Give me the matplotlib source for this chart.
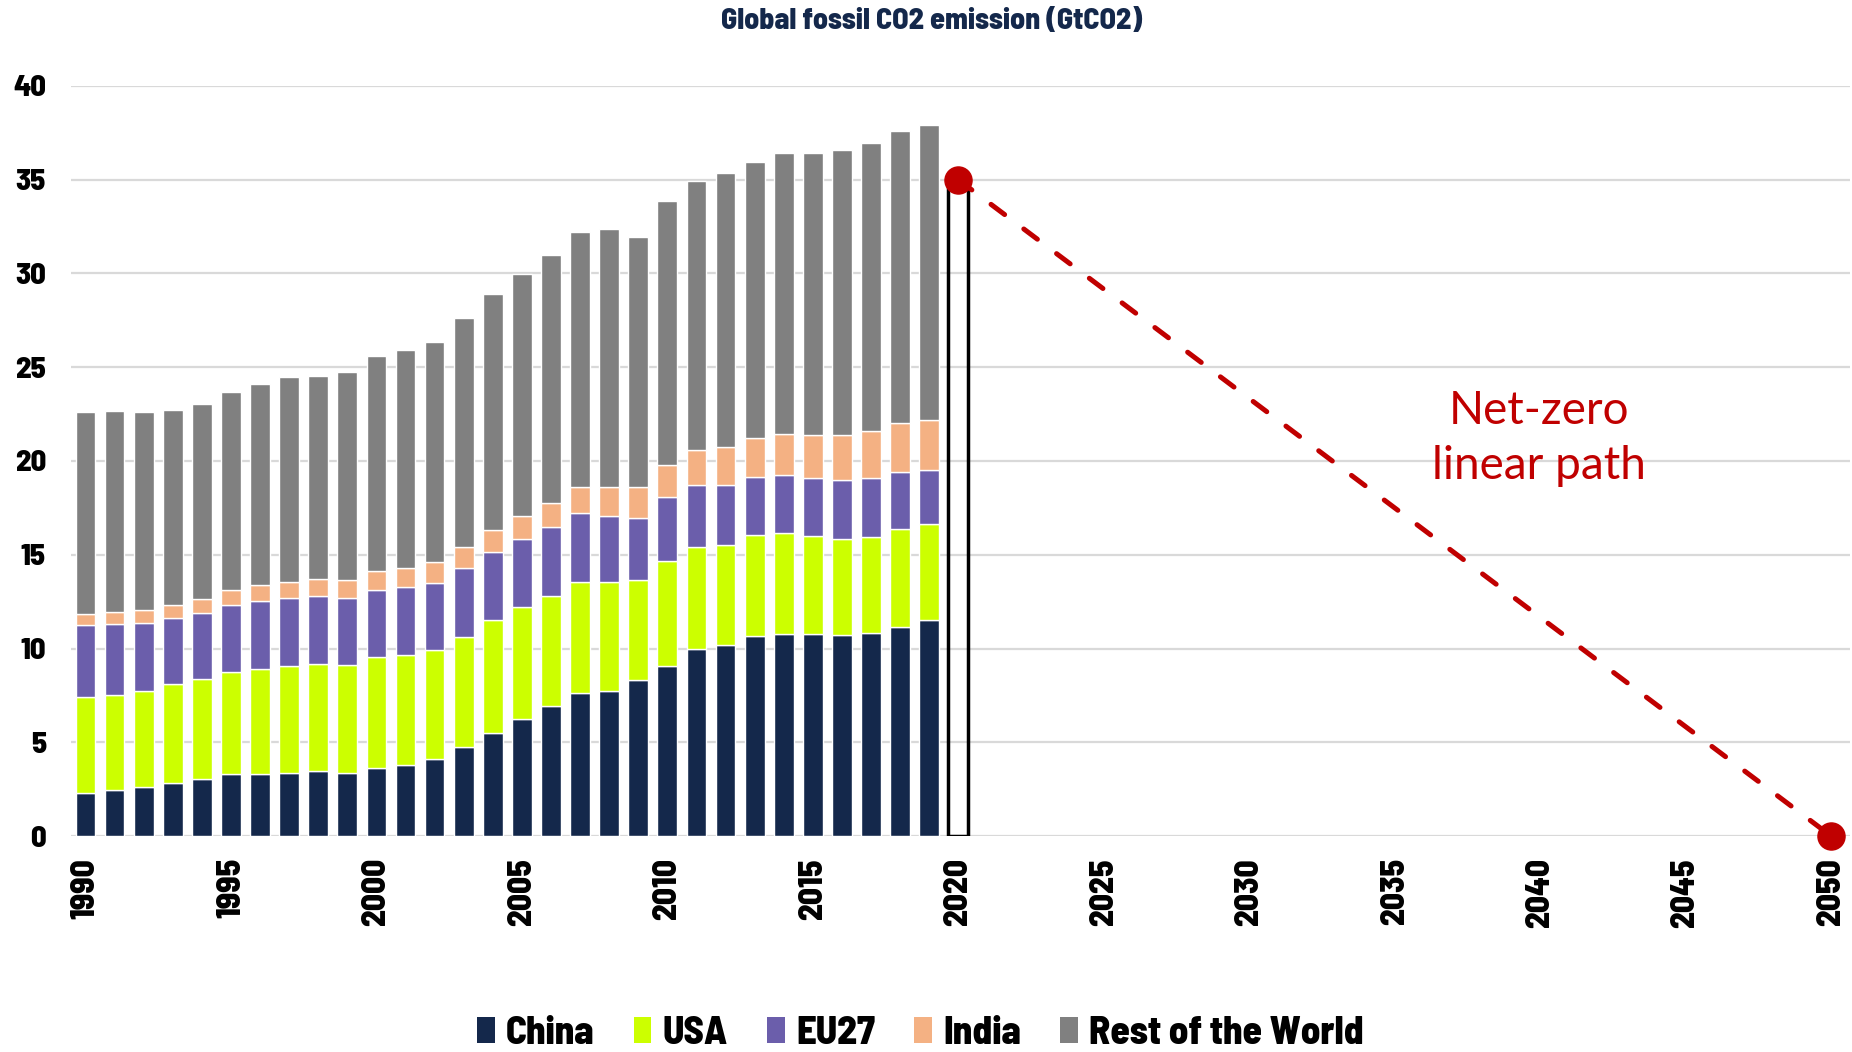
import matplotlib
matplotlib.use("Agg")
import matplotlib.pyplot as plt
from matplotlib.patches import Patch
import numpy as np

years = list(range(1990, 2020))
china = [2.31, 2.45, 2.61, 2.83, 3.02, 3.32, 3.32, 3.37, 3.46, 3.37,
         3.62, 3.78, 4.11, 4.76, 5.50, 6.23, 6.91, 7.62, 7.73, 8.33,
         9.06, 9.99, 10.20, 10.67, 10.75, 10.75, 10.72, 10.83, 11.13, 11.51]
usa = [5.12, 5.09, 5.15, 5.28, 5.33, 5.41, 5.58, 5.69, 5.71, 5.75,
       5.93, 5.88, 5.79, 5.88, 6.01, 5.96, 5.91, 5.93, 5.79, 5.33,
       5.61, 5.44, 5.31, 5.36, 5.41, 5.25, 5.14, 5.12, 5.25, 5.12]
eu27 = [3.81, 3.75, 3.61, 3.54, 3.54, 3.57, 3.64, 3.62, 3.62, 3.56,
        3.57, 3.62, 3.60, 3.67, 3.66, 3.67, 3.67, 3.65, 3.57, 3.32,
        3.40, 3.29, 3.21, 3.13, 3.08, 3.10, 3.13, 3.15, 3.05, 2.91]
india = [0.60, 0.66, 0.68, 0.68, 0.76, 0.84, 0.82, 0.87, 0.90, 0.95,
         1.00, 1.01, 1.09, 1.12, 1.17, 1.23, 1.28, 1.41, 1.50, 1.63,
         1.74, 1.88, 2.01, 2.04, 2.20, 2.31, 2.40, 2.48, 2.58, 2.64]
rest = [10.75, 10.74, 10.56, 10.39, 10.37, 10.53, 10.75, 10.91, 10.85, 11.13,
        11.49, 11.64, 11.78, 12.19, 12.59, 12.90, 13.22, 13.61, 13.76, 13.36,
        14.04, 14.34, 14.64, 14.77, 15.00, 15.03, 15.18, 15.37, 15.57, 15.75]

series_names = ["China", "USA", "EU27", "India", "Rest of the World"]
series_colors = ["#14284B", "#CCFF00", "#6B5EAB", "#F4B183", "#808080"]

path_years = [2020, 2050]
path_values = [35, 0]

tick_years = list(range(1990, 2051, 5))
y_ticks = list(range(0, 41, 5))

cond = ["Barlow Semi Condensed", "Liberation Sans", "DejaVu Sans"]

fig = plt.figure(figsize=(18.52, 10.52), dpi=100)
ax = fig.add_axes([0.0383, 0.2053, 0.9606, 0.713])

bottom = np.zeros(len(years))
for vals, name, col in zip([china, usa, eu27, india, rest], series_names, series_colors):
    ax.bar(years, vals, width=0.68, bottom=bottom, color=col, edgecolor="white",
           linewidth=1.0, label=name, zorder=3)
    bottom += np.array(vals)

# 2020 empty box
ax.bar(path_years[0], path_values[0], width=0.7, fill=False, edgecolor="black",
       linewidth=2.5, zorder=3)

# Net-zero path
ax.plot(path_years, path_values, color="#C00000", lw=3.6, dashes=(3.4, 4.8),
        dash_capstyle="round", zorder=4, clip_on=False)
ax.plot(path_years, path_values, "o", color="#C00000", markersize=19.5,
        zorder=5, clip_on=False)

ax.text(2039.95, 21.2, "Net-zero\nlinear path", color="#C00000", fontsize=33,
        family=["Lato", "DejaVu Sans"], ha="center", va="center", linespacing=1.4)

ax.set_xlim(1989.5, 2050.65)
ax.set_ylim(0, 40)
ax.set_yticks(y_ticks)
ax.set_xticks(tick_years)
ax.set_xticklabels([str(y) for y in tick_years], rotation=90,
                   fontfamily=cond, fontweight=800, fontsize=24)
ax.set_yticklabels([str(v) for v in y_ticks], fontfamily=cond,
                   fontweight=800, fontsize=22)
ax.tick_params(axis="both", length=0)
ax.tick_params(axis="x", pad=16)
ax.tick_params(axis="y", pad=18)
for s in ax.spines.values():
    s.set_visible(False)
ax.yaxis.grid(True, color="#D9D9D9", linewidth=1.6, zorder=0)
ax.set_axisbelow(True)

fig.text(0.503, 0.980, "Global fossil CO2 emission (GtCO2)", ha="center", va="center",
         fontfamily=cond, fontweight=800, fontsize=21.5, color="#14284B")

handles = [Patch(facecolor=c, edgecolor="none") for c in series_colors]
leg = fig.legend(handles, series_names, loc="center", bbox_to_anchor=(0.497, 0.018),
                 ncol=5, frameon=False, handlelength=0.45, handleheight=0.65,
                 columnspacing=1.0, handletextpad=0.3,
                 prop={"family": cond, "weight": 800, "size": 28})

fig.savefig("out.png", dpi=100)
